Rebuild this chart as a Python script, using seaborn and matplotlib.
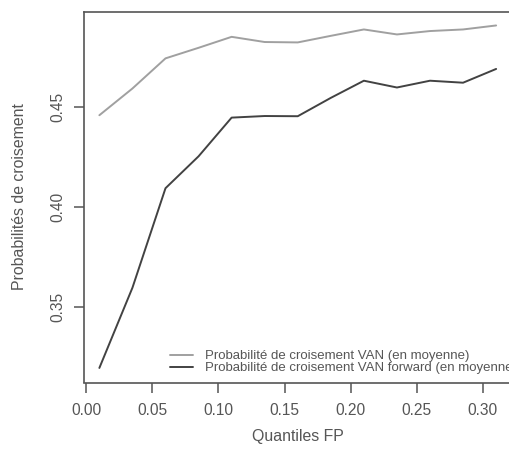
import matplotlib
matplotlib.use("Agg")
import matplotlib.pyplot as plt
import pandas as pd
import seaborn as sns

# Quantiles FP (axe x)
quantiles = [0.01, 0.035, 0.06, 0.085, 0.11, 0.135, 0.16, 0.185, 0.21, 0.235, 0.26, 0.285, 0.31]
# Probabilité de croisement VAN (en moyenne)
proba_van = [0.446, 0.4594, 0.4745, 0.4798, 0.4853, 0.4827, 0.4825, 0.4858, 0.489, 0.4865, 0.4882, 0.489, 0.491]
# Probabilité de croisement VAN forward (en moyenne)
proba_fwd = [0.3193, 0.3595, 0.4094, 0.4254, 0.4448, 0.4456, 0.4455, 0.4547, 0.4633, 0.4599, 0.4633, 0.4623, 0.4692]

lab_van = "Probabilité de croisement VAN (en moyenne)"
lab_fwd = "Probabilité de croisement VAN forward (en moyenne)"
xticks = [0.00, 0.05, 0.10, 0.15, 0.20, 0.25, 0.30]
yticks = [0.35, 0.40, 0.45]

df = pd.DataFrame({
    "q": quantiles * 2,
    "p": proba_van + proba_fwd,
    "serie": [lab_van] * len(quantiles) + [lab_fwd] * len(quantiles),
})

sns.set_style("white")
plt.rcParams["font.family"] = ["Liberation Sans", "DejaVu Sans"]
gris = "#565656"

fig = plt.figure(figsize=(5.09, 4.57), dpi=100)
# axes qui dépasse un peu à droite (image d'origine rognée)
ax = fig.add_axes([83.5 / 509, 74.5 / 457, 428.5 / 509, 371 / 457])

sns.lineplot(data=df, x="q", y="p", hue="serie",
             palette={lab_van: "#a0a0a0", lab_fwd: "#424242"},
             linewidth=1.4, ax=ax, legend=False)

# limites façon R (étendues de 4 %)
ax.set_xlim(-0.002, 0.322)
ax.set_ylim(0.312, 0.498)
ax.set_xticks(xticks)
ax.set_xticklabels([f"{t:.2f}" for t in xticks])
ax.set_yticks(yticks)
ax.set_yticklabels([f"{t:.2f}" for t in yticks], rotation=90, va="center")

for s in ax.spines.values():
    s.set_visible(True)
    s.set_color("#555555")
    s.set_linewidth(1.2)

ax.tick_params(axis="both", direction="out", length=7.2, width=1.1, color="#555555",
               labelsize=11.2, labelcolor=gris)
ax.tick_params(axis="x", pad=7.5, bottom=True)
ax.tick_params(axis="y", pad=5.5, left=True)

ax.set_xlabel("Quantiles FP", fontsize=11.4, color=gris)
ax.set_ylabel("Probabilités de croisement", fontsize=11.4, color=gris)
ax.xaxis.set_label_coords(0.5, -0.125)
ax.yaxis.set_label_coords(-0.131, 0.5)

handles = [plt.Line2D([], [], color="#a0a0a0", lw=1.4),
           plt.Line2D([], [], color="#424242", lw=1.4)]
ax.legend(handles, [lab_van, lab_fwd], loc="lower left", bbox_to_anchor=(0.2019, 0.0216),
          frameon=False, fontsize=9.5, borderpad=0, borderaxespad=0,
          handlelength=1.75, handletextpad=0.9, labelspacing=0.0,
          labelcolor=gris)

fig.savefig("out.png", dpi=100)
